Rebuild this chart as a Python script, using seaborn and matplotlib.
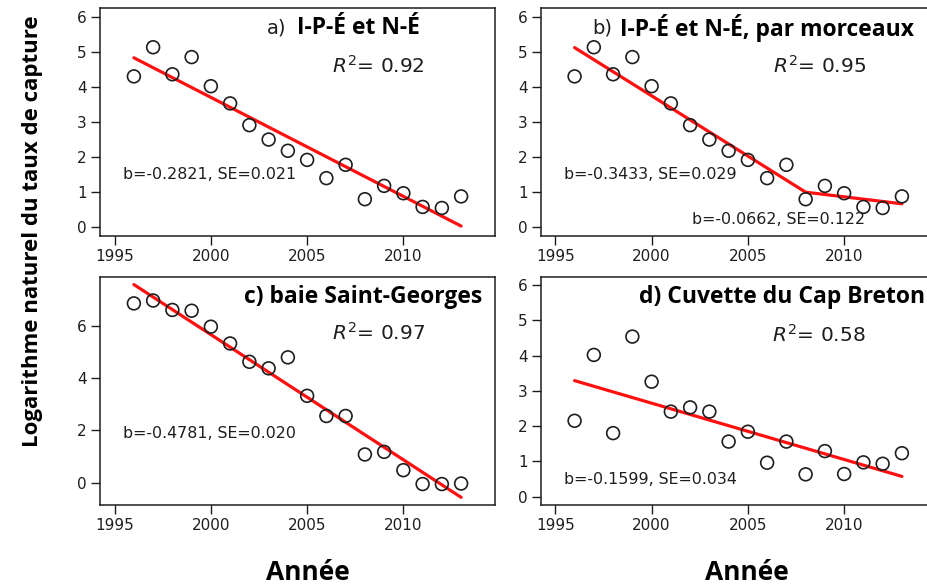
import matplotlib
matplotlib.use("Agg")
import matplotlib.pyplot as plt
import seaborn as sns
import pandas as pd

# Years of the survey series
years = [1996, 1997, 1998, 1999, 2000, 2001, 2002, 2003, 2004,
         2005, 2006, 2007, 2008, 2009, 2010, 2011, 2012, 2013]

# Natural log of catch rate by area
ipe_ne = [4.30, 5.13, 4.36, 4.85, 4.02, 3.53, 2.91, 2.50, 2.18,
          1.92, 1.40, 1.78, 0.80, 1.18, 0.97, 0.58, 0.55, 0.88]
baie_sg = [6.85, 6.96, 6.60, 6.57, 5.96, 5.32, 4.62, 4.37, 4.79,
           3.32, 2.55, 2.55, 1.08, 1.18, 0.48, -0.05, -0.05, -0.03]
cap_breton = [2.15, 4.02, 1.80, 4.54, 3.26, 2.41, 2.53, 2.41, 1.56,
              1.84, 0.96, 1.56, 0.63, 1.29, 0.64, 0.97, 0.93, 1.23]

# Regression results (slope b, standard error, R^2, fitted value at first year)
slope_a, se_a, r2_a, start_a = -0.2821, 0.021, 0.92, 4.83
slope_b1, se_b1 = -0.3433, 0.029
slope_b2, se_b2 = -0.0662, 0.122
break_year, break_value, r2_b = 2008, 1.00, 0.95
slope_c, se_c, r2_c, start_c = -0.4781, 0.020, 0.97, 7.57
slope_d, se_d, r2_d, start_d = -0.1599, 0.034, 0.58, 3.29

xticks = [1995, 2000, 2005, 2010]

sns.set_theme(style="white")
plt.rcParams["font.family"] = ["DejaVu Sans"]
plt.rcParams["mathtext.fontset"] = "dejavusans"

INK = "#1e1e1e"
RED = "#ff1010"
BOLD = ["Open Sans", "DejaVu Sans"]
TITLE_SIZE = 16.5

fig = plt.figure(figsize=(9.28, 5.87), dpi=100)
W, H = 928.0, 587.0


def add_panel(left, top, right, bottom):
    return fig.add_axes([left / W, 1 - bottom / H, (right - left) / W, (bottom - top) / H])


ax_a = add_panel(100, 8.3, 495, 235.7)
ax_b = add_panel(540.7, 8.3, 935.8, 235.7)
ax_c = add_panel(100, 276.7, 495, 505)
ax_d = add_panel(540.7, 276.7, 935.8, 505)


def style(ax, ylim, yticks):
    ax.set_xlim(1994.24, 2014.76)
    ax.set_ylim(*ylim)
    ax.set_xticks(xticks)
    ax.set_yticks(yticks)
    ax.set_xlabel("")
    ax.set_ylabel("")
    for sp in ax.spines.values():
        sp.set_visible(True)
        sp.set_color(INK)
        sp.set_linewidth(1.1)
    ax.tick_params(direction="out", length=6.5, width=1.0, color=INK,
                   labelsize=11, labelcolor=INK, pad=3,
                   bottom=True, left=True)
    ax.set_facecolor("white")


def points(ax, vals):
    df = pd.DataFrame({"year": years, "val": vals})
    sns.scatterplot(data=df, x="year", y="val", ax=ax, s=85, marker="o",
                    facecolor="none", edgecolor=INK, linewidth=1.2, zorder=3)


def fit_line(ax, xs, ys):
    df = pd.DataFrame({"year": xs, "fit": ys})
    sns.lineplot(data=df, x="year", y="fit", ax=ax, color=RED, linewidth=2.3,
                 zorder=2, sort=False)


def stats(ax, xfrac, yfrac, r2):
    ax.text(xfrac, yfrac, r"$R^2$" + "= {:.2f}".format(r2), transform=ax.transAxes,
            ha="center", va="center", fontsize=14.5, color=INK)


def bnote(ax, x, y, b, se):
    ax.text(x, y, "b={:.4f}, SE={:.3f}".format(b, se), ha="left", va="center",
            fontsize=11.4, color=INK)


first, last = years[0], years[-1]

# a) single linear fit
points(ax_a, ipe_ne)
fit_line(ax_a, [first, last], [start_a, start_a + slope_a * (last - first)])
style(ax_a, (-0.24, 6.24), [0, 1, 2, 3, 4, 5, 6])
stats(ax_a, 0.705, 0.745, r2_a)
bnote(ax_a, 1995.45, 1.50, slope_a, se_a)
ax_a.text((267 - 100) / 395, 0.915, "a)", transform=ax_a.transAxes,
          ha="left", va="center", fontsize=14, color=INK)
ax_a.text((297 - 100) / 395, 0.915, "I-P-É et N-É", transform=ax_a.transAxes,
          ha="left", va="center", fontsize=TITLE_SIZE, fontweight="bold",
          family=BOLD, color="black")

# b) piecewise fit
points(ax_b, ipe_ne)
b_start = break_value - slope_b1 * (break_year - first)
b_end = break_value + slope_b2 * (last - break_year)
fit_line(ax_b, [first, break_year, last], [b_start, break_value, b_end])
style(ax_b, (-0.24, 6.24), [0, 1, 2, 3, 4, 5, 6])
stats(ax_b, 0.705, 0.745, r2_b)
bnote(ax_b, 1995.47, 1.50, slope_b1, se_b1)
bnote(ax_b, 2002.08, 0.23, slope_b2, se_b2)
ax_b.text((592 - 540.7) / 395, 0.915, "b)", transform=ax_b.transAxes,
          ha="left", va="center", fontsize=14, color=INK)
ax_b.text((620 - 540.7) / 395, 0.915, "I-P-É et N-É, par morceaux",
          transform=ax_b.transAxes, ha="left", va="center", fontsize=TITLE_SIZE,
          fontweight="bold", family=BOLD, color="black")

# c) baie Saint-Georges
points(ax_c, baie_sg)
fit_line(ax_c, [first, last], [start_c, start_c + slope_c * (last - first)])
style(ax_c, (-0.85, 7.87), [0, 2, 4, 6])
stats(ax_c, 0.705, 0.755, r2_c)
bnote(ax_c, 1995.45, 1.90, slope_c, se_c)
ax_c.text((244 - 100) / 395, 0.911, "c) baie Saint-Georges", transform=ax_c.transAxes,
          ha="left", va="center", fontsize=TITLE_SIZE, fontweight="bold",
          family=BOLD, color="black")

# d) Cuvette du Cap Breton
points(ax_d, cap_breton)
fit_line(ax_d, [first, last], [start_d, start_d + slope_d * (last - first)])
style(ax_d, (-0.24, 6.24), [0, 1, 2, 3, 4, 5, 6])
stats(ax_d, 0.705, 0.745, r2_d)
bnote(ax_d, 1995.47, 0.49, slope_d, se_d)
ax_d.text((639 - 540.7) / 395, 0.911, "d) Cuvette du Cap Breton",
          transform=ax_d.transAxes, ha="left", va="center", fontsize=TITLE_SIZE,
          fontweight="bold", family=BOLD, color="black")

# Shared axis titles
fig.text(308 / W, 1 - 572 / H, "Année", ha="center", va="center",
         fontsize=19, fontweight="bold", family=BOLD, color="black")
fig.text(747 / W, 1 - 572 / H, "Année", ha="center", va="center",
         fontsize=19, fontweight="bold", family=BOLD, color="black")
fig.text(33 / W, 1 - 231 / H, "Logarithme naturel du taux de capture",
         rotation=90, ha="center", va="center", fontsize=16,
         fontweight="bold", family=BOLD, color="black")

fig.savefig("out.png", dpi=100, facecolor="white")
